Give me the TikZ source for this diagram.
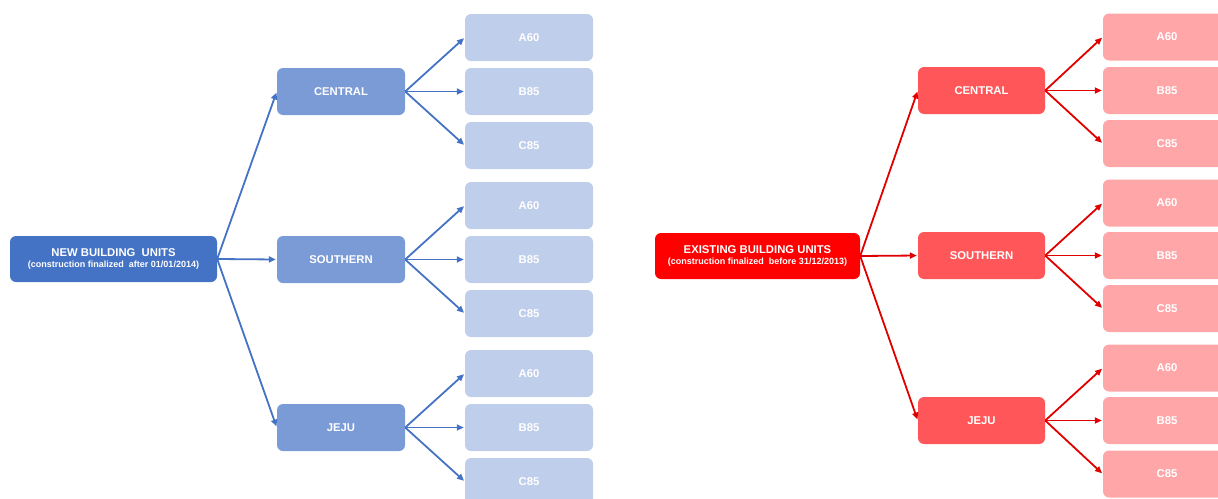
\documentclass[tikz,border=0pt]{standalone}
\usepackage{fontspec}
\setmainfont{Liberation Sans}
\usetikzlibrary{arrows.meta}
\definecolor{bRoot}{HTML}{4472C4}
\definecolor{bMid}{HTML}{7B9BD6}
\definecolor{bLeaf}{HTML}{BFCEEA}
\definecolor{rRoot}{HTML}{FF0000}
\definecolor{rMid}{HTML}{FF5759}
\definecolor{rLeaf}{HTML}{FFA7A8}
\definecolor{bArrow}{HTML}{4472C4}
\definecolor{rArrow}{HTML}{E00000}
\tikzset{
  box/.style={rounded corners=6pt, inner sep=0pt, text=white, font=\bfseries\fontsize{11.3}{13}\selectfont, align=center},
  rootbox/.style={box, minimum width=207pt, minimum height=46pt},
  midbox/.style={box, minimum width=128pt, minimum height=47pt},
  leafbox/.style={box, minimum width=128pt, minimum height=47pt},
  barrow/.style={draw=bArrow, line width=1.8pt, -{Triangle[length=7pt,width=6pt]}, shorten >=1pt},
  rarrow/.style={draw=rArrow, line width=1.8pt, -{Triangle[length=7pt,width=6pt]}, shorten >=1pt},
}
\begin{document}
\begin{tikzpicture}[x=1pt,y=-1pt]
\useasboundingbox (0,0) rectangle (1218,498);
\clip (0,0) rectangle (1218,498);
% left tree
\node[rootbox, fill=bRoot] (L) at (113.5,259) {NEW BUILDING\ \ UNITS\\[-1.5pt]{\fontsize{9}{10.5}\selectfont (construction finalized\ \ after 01/01/2014)}};
\node[midbox, fill=bMid] (LC) at (341,91.5) {CENTRAL};
\node[midbox, fill=bMid] (LS) at (341,259.5) {SOUTHERN};
\node[midbox, fill=bMid] (LJ) at (341,427.5) {JEJU};
\node[leafbox, fill=bLeaf] (LCa) at (529,37.5) {A60};
\node[leafbox, fill=bLeaf] (LCb) at (529,91.5) {B85};
\node[leafbox, fill=bLeaf] (LCc) at (529,145.5) {C85};
\node[leafbox, fill=bLeaf] (LSa) at (529,205.5) {A60};
\node[leafbox, fill=bLeaf] (LSb) at (529,259.5) {B85};
\node[leafbox, fill=bLeaf] (LSc) at (529,313.5) {C85};
\node[leafbox, fill=bLeaf] (LJa) at (529,373.5) {A60};
\node[leafbox, fill=bLeaf] (LJb) at (529,427.5) {B85};
\node[leafbox, fill=bLeaf] (LJc) at (529,481.5) {C85};
\foreach \m in {LC,LS,LJ}{\draw[barrow] (L.east) -- (\m.west);}
\foreach \m in {LC,LS,LJ}{\foreach \l in {a,b,c}{\draw[barrow] (\m.east) -- (\m\l.west);}}
% right tree
\node[rootbox, fill=rRoot, minimum width=205pt] (R) at (757.5,256) {EXISTING BUILDING UNITS\\[-1.5pt]{\fontsize{9}{10.5}\selectfont (construction finalized\ \ before 31/12/2013)}};
\node[midbox, fill=rMid, minimum width=127pt] (RC) at (981.5,90.5) {CENTRAL};
\node[midbox, fill=rMid, minimum width=127pt] (RS) at (981.5,255.5) {SOUTHERN};
\node[midbox, fill=rMid, minimum width=127pt] (RJ) at (981.5,420.5) {JEJU};
\node[leafbox, fill=rLeaf] (RCa) at (1167,37) {A60};
\node[leafbox, fill=rLeaf] (RCb) at (1167,90.5) {B85};
\node[leafbox, fill=rLeaf] (RCc) at (1167,143.5) {C85};
\node[leafbox, fill=rLeaf] (RSa) at (1167,203) {A60};
\node[leafbox, fill=rLeaf] (RSb) at (1167,255.5) {B85};
\node[leafbox, fill=rLeaf] (RSc) at (1167,308.5) {C85};
\node[leafbox, fill=rLeaf] (RJa) at (1167,368) {A60};
\node[leafbox, fill=rLeaf] (RJb) at (1167,420.5) {B85};
\node[leafbox, fill=rLeaf] (RJc) at (1167,474) {C85};
\foreach \m in {RC,RS,RJ}{\draw[rarrow] (R.east) -- (\m.west);}
\foreach \m in {RC,RS,RJ}{\foreach \l in {a,b,c}{\draw[rarrow] (\m.east) -- (\m\l.west);}}
\end{tikzpicture}
\end{document}
